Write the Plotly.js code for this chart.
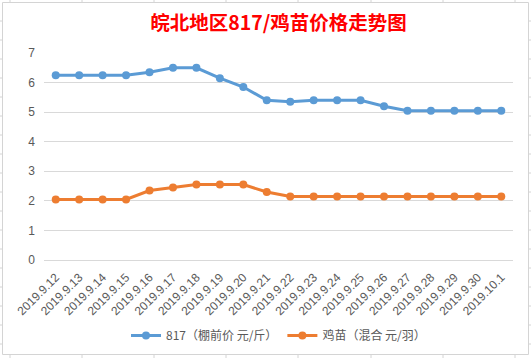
<!DOCTYPE html>
<html>
<head>
<meta charset="utf-8">
<script src="https://cdn.plot.ly/plotly-3.0.1.min.js"></script>
<style>html,body{margin:0;padding:0;background:#fff;}#chart{width:531px;height:358px;}</style>
</head>
<body>
<div id="chart"></div>
<script>
const dates = ["2019.9.12","2019.9.13","2019.9.14","2019.9.15","2019.9.16","2019.9.17","2019.9.18","2019.9.19","2019.9.20","2019.9.21","2019.9.22","2019.9.23","2019.9.24","2019.9.25","2019.9.26","2019.9.27","2019.9.28","2019.9.29","2019.9.30","2019.10.1"];
const price817 = [6.25,6.25,6.25,6.25,6.35,6.5,6.5,6.15,5.85,5.4,5.35,5.4,5.4,5.4,5.2,5.05,5.05,5.05,5.05,5.05];
const chickPrice = [2.05,2.05,2.05,2.05,2.35,2.45,2.55,2.55,2.55,2.3,2.15,2.15,2.15,2.15,2.15,2.15,2.15,2.15,2.15,2.15];
const seriesNames = ["817（棚前价 元/斤）","鸡苗（混合 元/羽）"];
const yTicks = [0,1,2,3,4,5,6,7];

const W = 531, H = 358, ML = 44, MR = 18, MT = 53, MB = 98;
const PW = W - ML - MR, PH = H - MT - MB;
const px = v => (v - ML) / PW;
const py = v => (H - MB - v) / PH;
const gridCol = '#D4D4D4';

const shapes = [
  {type: 'rect', xref: 'paper', yref: 'paper', x0: px(2.5), x1: px(528.5), y0: py(354.5), y1: py(2.5),
   line: {color: gridCol, width: 1}, layer: 'below'}
];
// spreadsheet cell lines outside the chart frame
[10, 82, 154, 226, 298, 371, 443, 515].forEach(x => {
  shapes.push({type: 'line', xref: 'paper', yref: 'paper', x0: px(x), x1: px(x), y0: py(0), y1: py(2.5), line: {color: gridCol, width: 1}});
  shapes.push({type: 'line', xref: 'paper', yref: 'paper', x0: px(x), x1: px(x), y0: py(354.5), y1: py(358), line: {color: gridCol, width: 1}});
});
for (let y = 21; y < 354; y += 19) {
  shapes.push({type: 'line', xref: 'paper', yref: 'paper', x0: px(0), x1: px(2.5), y0: py(y), y1: py(y), line: {color: gridCol, width: 1}});
  shapes.push({type: 'line', xref: 'paper', yref: 'paper', x0: px(528.5), x1: px(531), y0: py(y), y1: py(y), line: {color: gridCol, width: 1}});
}

const traces = [
  {x: dates, y: price817, name: seriesNames[0], type: 'scatter', mode: 'lines+markers',
   line: {color: '#5B9BD5', width: 3}, marker: {color: '#5B9BD5', size: 8}},
  {x: dates, y: chickPrice, name: seriesNames[1], type: 'scatter', mode: 'lines+markers',
   line: {color: '#ED7D31', width: 3}, marker: {color: '#ED7D31', size: 8}}
];
const layout = {
  width: W, height: H,
  margin: {l: ML, r: MR, t: MT, b: MB, autoexpand: false},
  paper_bgcolor: '#ffffff', plot_bgcolor: '#ffffff',
  font: {family: '"Noto Sans CJK SC", sans-serif', color: '#595959', size: 11},
  title: {text: '<b>皖北地区817/鸡苗价格走势图</b>', x: 0.5, xref: 'paper', xanchor: 'center', y: 0.936, yanchor: 'middle',
          font: {family: '"Noto Sans CJK SC", sans-serif', size: 19.5, color: '#FF0000'}},
  xaxis: {type: 'category', tickangle: -45, showgrid: false, zeroline: false, showline: false, automargin: false,
          ticks: '', ticklabelstandoff: 7, tickfont: {size: 12, color: '#595959', family: 'Liberation Sans, Arial, sans-serif'},
          range: [-0.5, dates.length - 0.5]},
  yaxis: {range: [0, 7], tickvals: yTicks, showgrid: true, gridcolor: '#D9D9D9', gridwidth: 1,
          zeroline: true, zerolinecolor: '#D9D9D9', zerolinewidth: 1, automargin: false,
          showline: false, ticks: '', ticklabelstandoff: 8,
          tickfont: {size: 12, color: '#595959', family: 'Liberation Sans, Arial, sans-serif'}},
  showlegend: true,
  legend: {orientation: 'h', x: 0.5, xanchor: 'center', y: py(321), yanchor: 'top',
           font: {size: 12, color: '#595959'}, itemwidth: 30},
  shapes: shapes
};
Plotly.newPlot('chart', traces, layout, {displayModeBar: false, staticPlot: true});
</script>
</body>
</html>
